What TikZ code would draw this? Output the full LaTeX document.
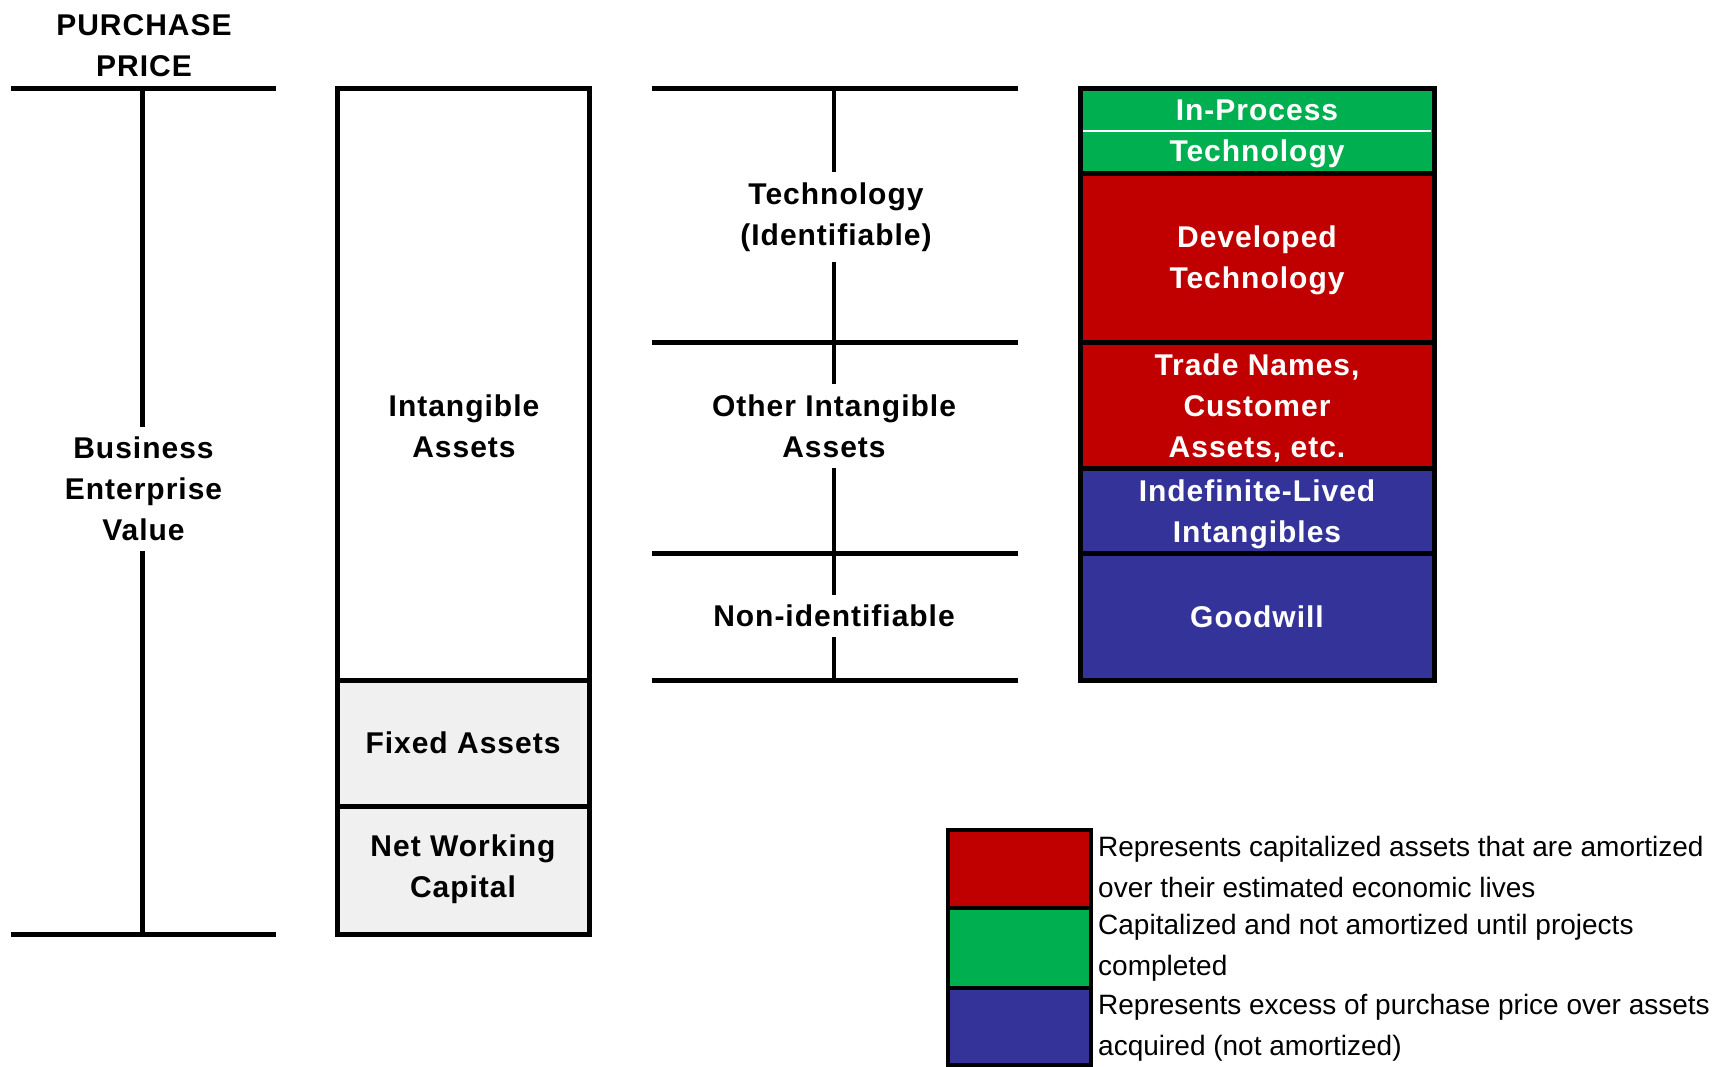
\documentclass[tikz,border=0pt]{standalone}
\usepackage{fontspec}
\setmainfont{Liberation Sans}
\newfontfamily\boldlab[LetterSpace=3.3]{Liberation Sans}
\definecolor{grn}{HTML}{00B050}
\definecolor{rd}{HTML}{C00000}
\definecolor{bl}{HTML}{333399}
\definecolor{lg}{HTML}{F0F0F0}
\begin{document}
\begin{tikzpicture}[x=1pt,y=-1pt,
  lbl/.style={font=\fontsize{30}{41}\selectfont\boldlab\bfseries, align=center, inner xsep=1pt, inner ysep=10pt},
  wlbl/.style={lbl, text=white},
  bar/.style={line width=5pt},
  vline/.style={line width=4.7pt},
  colbox/.style={draw=black, line width=5pt, minimum width=252pt, inner sep=0pt},
  seg/.style={draw=black, line width=5pt, minimum width=354pt, inner sep=0pt},
  swatch/.style={draw=black, line width=4.5pt, minimum width=143pt, inner sep=0pt},
  legtxt/.style={anchor=west, align=left, inner sep=0pt, font=\fontsize{28}{41}\selectfont}
]
\useasboundingbox[fill=white] (0,0) rectangle (1732,1066);

% ---------- left column ----------
\node[lbl] (pp) at (144,46) {PURCHASE\\PRICE};
\coordinate (lt1) at (11,88);  \coordinate (lt2) at (276,88);  \coordinate (ltm) at (142.5,88);
\coordinate (lb1) at (11,934); \coordinate (lb2) at (276,934); \coordinate (lbm) at (142.5,934);
\draw[bar] (lt1) -- (lt2);
\draw[bar] (lb1) -- (lb2);
\node[lbl] (bev) at (143.5,489) {Business\\Enterprise\\Value};
\draw[vline] (ltm) -- (ltm |- bev.north);
\draw[vline] (lbm |- bev.south) -- (lbm);

% ---------- asset column ----------
\node[colbox, minimum height=592pt] (ia) at (463,384) {};
\node[colbox, minimum height=126pt, fill=lg] (fa) at (463,743) {};
\node[colbox, minimum height=128pt, fill=lg] (nwc) at (463,870) {};
\node[lbl] (iatxt) at (464,426) {Intangible\\Assets};
\node[lbl] (fatxt) at (fa.center) {Fixed Assets};
\node[lbl] (nwctxt) at ([yshift=1pt]nwc.center) {Net Working\\Capital};

% ---------- middle column ----------
\coordinate (h1a) at (652,88);  \coordinate (h1b) at (1018,88);  \coordinate (m1) at (834,88);
\coordinate (h2a) at (652,342); \coordinate (h2b) at (1018,342); \coordinate (m2) at (834,342);
\coordinate (h3a) at (652,553); \coordinate (h3b) at (1018,553); \coordinate (m3) at (834,553);
\coordinate (h4a) at (652,680); \coordinate (h4b) at (1018,680); \coordinate (m4) at (834,683);
\draw[bar] (h1a) -- (h1b);
\draw[bar] (h2a) -- (h2b);
\draw[bar] (h3a) -- (h3b);
\draw[bar] (h4a) -- (h4b);
\node[lbl] (tech) at (836,217) {Technology\\(Identifiable)};
\node[lbl] (oia) at (834,426) {Other Intangible\\Assets};
\node[lbl] (ni) at (834,616) {Non-identifiable};
\draw[vline] (m1) -- (m1 |- tech.north);
\draw[vline] (m2 |- tech.south) -- (m2);
\draw[vline] (m2) -- (m2 |- oia.north);
\draw[vline] (m3 |- oia.south) -- (m3);
\draw[vline] (m3) -- (m3 |- ni.north);
\draw[vline] (m4 |- ni.south) -- (m4);

% ---------- right column ----------
\node[seg, fill=grn, minimum height=85pt] (ipt) at (1257,130.5) {};
\coordinate (wl1) at (1083,131); \coordinate (wl2) at (1431,131);
\draw[white, line width=1.2pt] (wl1) -- (wl2);
\node[seg, fill=rd, minimum height=169pt] (dev) at (1257,257.5) {};
\node[seg, fill=rd, minimum height=126pt] (tn) at (1257,405) {};
\node[seg, fill=bl, minimum height=85pt] (ind) at (1257,510.5) {};
\node[seg, fill=bl, minimum height=127pt] (gw) at (1257,616.5) {};
\node[wlbl] (ipttxt) at ([yshift=-3.3pt]ipt.center) {In-Process\\Technology};
\node[wlbl] (devtxt) at ([yshift=-3.3pt]dev.center) {Developed\\Technology};
\node[wlbl] (tntxt) at ([yshift=-2.8pt]tn.center) {Trade Names,\\Customer\\Assets, etc.};
\node[wlbl] (indtxt) at ([yshift=-3.6pt]ind.center) {Indefinite-Lived\\Intangibles};
\node[wlbl] (gwtxt) at (gw.center) {Goodwill};

% ---------- legend ----------
\node[swatch, fill=rd, minimum height=78pt] (sr) at (1019.5,869) {};
\node[swatch, fill=grn, minimum height=80pt] (sg) at (1019.5,948) {};
\node[swatch, fill=bl, minimum height=77pt] (sb) at (1019.5,1026.5) {};
\node[legtxt] (tr) at (1098,866.5) {Represents capitalized assets that are amortized\\over their estimated economic lives};
\node[legtxt] (tg) at (1098,947.5) {Capitalized and not amortized until projects\\completed};
\node[legtxt] (tb) at (1098,1028) {Represents excess of purchase price over assets\\acquired (not amortized)};
\end{tikzpicture}
\end{document}
